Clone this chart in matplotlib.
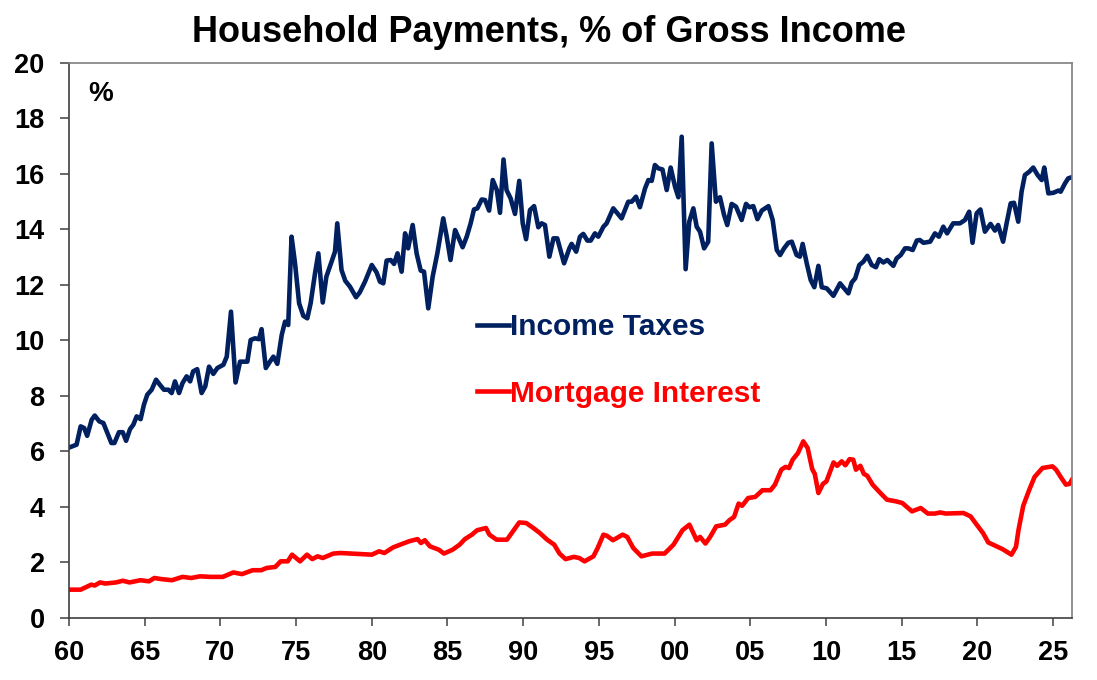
import matplotlib
matplotlib.use('Agg')
import matplotlib.pyplot as plt

plt.rcParams['font.family'] = ['Liberation Sans', 'DejaVu Sans']
plt.rcParams['font.weight'] = 'bold'

# income taxes, % of gross income
tax_year = [1960.07, 1960.5, 1960.77, 1961.0, 1961.2, 1961.5, 1961.7, 1962.0, 1962.27, 1962.8,
            1963.0, 1963.3, 1963.55, 1963.77, 1964.03, 1964.25, 1964.47, 1964.73, 1964.95, 1965.17,
            1965.46, 1965.75, 1966.0, 1966.27, 1966.56, 1966.78, 1967.0, 1967.27, 1967.5, 1967.77,
            1968.0, 1968.2, 1968.47, 1968.76, 1969.0, 1969.25, 1969.53, 1969.8, 1970.2, 1970.42,
            1970.7, 1971.0, 1971.3, 1971.78, 1972.0, 1972.28, 1972.55, 1972.72, 1973.0, 1973.27,
            1973.5, 1973.76, 1974.05, 1974.27, 1974.48, 1974.7, 1974.93, 1975.2, 1975.48, 1975.74,
            1975.96, 1976.25, 1976.47, 1976.76, 1977.0, 1977.29, 1977.57, 1977.72, 1978.0, 1978.25,
            1978.56, 1978.96, 1979.2, 1979.55, 1980.0, 1980.32, 1980.54, 1980.76, 1980.98, 1981.25,
            1981.47, 1981.7, 1981.97, 1982.2, 1982.4, 1982.7, 1982.96, 1983.23, 1983.45, 1983.73,
            1984.02, 1984.33, 1984.5, 1984.72, 1984.95, 1985.2, 1985.5, 1985.7, 1986.0, 1986.27,
            1986.53, 1986.75, 1986.97, 1987.26, 1987.48, 1987.75, 1987.99, 1988.26, 1988.47, 1988.7,
            1988.9, 1989.17, 1989.46, 1989.74, 1989.97, 1990.19, 1990.45, 1990.72, 1991.0, 1991.22,
            1991.44, 1991.73, 1992.0, 1992.25, 1992.7, 1993.05, 1993.2, 1993.5, 1993.75, 1993.97,
            1994.24, 1994.46, 1994.74, 1994.96, 1995.3, 1995.51, 1995.95, 1996.5, 1996.94, 1997.17,
            1997.45, 1997.71, 1998.05, 1998.27, 1998.49, 1998.7, 1998.93, 1999.2, 1999.48, 1999.74,
            2000.03, 2000.25, 2000.47, 2000.73, 2000.97, 2001.24, 2001.46, 2001.68, 2001.95, 2002.22,
            2002.45, 2002.73, 2003.0, 2003.27, 2003.48, 2003.77, 2004.06, 2004.43, 2004.72, 2004.94,
            2005.2, 2005.47, 2005.76, 2006.2, 2006.48, 2006.75, 2006.97, 2007.23, 2007.51, 2007.74,
            2008.06, 2008.28, 2008.46, 2008.73, 2008.99, 2009.23, 2009.5, 2009.72, 2010.05, 2010.49,
            2010.93, 2011.2, 2011.48, 2011.7, 2011.93, 2012.2, 2012.47, 2012.73, 2013.02, 2013.3,
            2013.52, 2013.79, 2014.05, 2014.45, 2014.67, 2014.94, 2015.22, 2015.44, 2015.73, 2016.0,
            2016.2, 2016.44, 2016.88, 2017.2, 2017.46, 2017.75, 2018.0, 2018.4, 2018.85, 2019.18,
            2019.46, 2019.68, 2019.95, 2020.2, 2020.5, 2020.87, 2021.16, 2021.37, 2021.7, 2021.93,
            2022.2, 2022.42, 2022.7, 2022.92, 2023.14, 2023.43, 2023.69, 2023.98, 2024.25, 2024.42,
            2024.69, 2025.02, 2025.35, 2025.5, 2025.79, 2026.0, 2026.23]
tax_val = [6.15, 6.24, 6.9, 6.84, 6.56, 7.14, 7.29, 7.08, 7.02, 6.3,
           6.3, 6.69, 6.69, 6.38, 6.8, 6.96, 7.26, 7.16, 7.68, 8.04,
           8.22, 8.58, 8.4, 8.22, 8.22, 8.1, 8.52, 8.1, 8.46, 8.7,
           8.52, 8.88, 8.96, 8.1, 8.34, 9.05, 8.79, 9.0, 9.12, 9.41,
           11.03, 8.48, 9.23, 9.23, 10.01, 10.07, 10.04, 10.4, 9.0, 9.23,
           9.41, 9.15, 10.19, 10.67, 10.55, 13.73, 12.77, 11.33, 10.88, 10.79,
           11.33, 12.41, 13.13, 11.36, 12.29, 12.75, 13.19, 14.21, 12.53, 12.14,
           11.93, 11.55, 11.72, 12.11, 12.71, 12.44, 12.11, 12.05, 12.87, 12.89,
           12.75, 13.13, 12.47, 13.85, 13.31, 14.15, 13.13, 12.51, 12.47, 11.15,
           12.29, 13.13, 13.67, 14.39, 13.73, 12.89, 13.97, 13.73, 13.35, 13.73,
           14.21, 14.71, 14.75, 15.07, 15.05, 14.67, 15.77, 15.41, 14.59, 16.51,
           15.41, 15.11, 14.55, 15.74, 14.21, 13.64, 14.69, 14.83, 14.07, 14.21,
           14.15, 13.01, 13.67, 13.67, 12.77, 13.31, 13.47, 13.19, 13.73, 13.83,
           13.59, 13.59, 13.85, 13.73, 14.09, 14.21, 14.75, 14.39, 14.99, 14.99,
           15.17, 14.79, 15.47, 15.77, 15.74, 16.31, 16.19, 16.15, 15.41, 16.22,
           15.53, 15.15, 17.33, 12.56, 14.27, 14.75, 14.09, 13.91, 13.31, 13.55,
           17.09, 14.99, 15.15, 14.51, 14.15, 14.91, 14.81, 14.33, 14.91, 14.79,
           14.83, 14.36, 14.67, 14.83, 14.33, 13.25, 13.07, 13.31, 13.51, 13.55,
           13.07, 13.01, 13.47, 12.77, 12.17, 11.91, 12.68, 11.91, 11.87, 11.6,
           12.05, 11.87, 11.69, 12.08, 12.23, 12.71, 12.83, 13.04, 12.71, 12.63,
           12.92, 12.8, 12.89, 12.68, 12.95, 13.07, 13.31, 13.31, 13.25, 13.59,
           13.61, 13.51, 13.55, 13.85, 13.73, 14.09, 13.85, 14.21, 14.21, 14.33,
           14.63, 13.51, 14.57, 14.71, 13.91, 14.19, 13.95, 14.15, 13.55, 14.21,
           14.93, 14.95, 14.27, 15.35, 15.95, 16.07, 16.22, 15.95, 15.77, 16.22,
           15.29, 15.31, 15.39, 15.35, 15.65, 15.83, 15.87]

# mortgage interest, % of gross income
mort_year = [1960.08, 1960.77, 1961.47, 1961.7, 1962.05, 1962.4, 1963.1, 1963.55, 1964.0, 1964.72,
             1965.28, 1965.64, 1966.1, 1966.8, 1967.5, 1968.07, 1968.65, 1969.35, 1970.16, 1970.85,
             1971.43, 1972.13, 1972.7, 1973.05, 1973.63, 1973.98, 1974.45, 1974.73, 1975.26, 1975.72,
             1976.07, 1976.42, 1976.76, 1977.46, 1977.93, 1978.62, 1980.0, 1980.48, 1980.83, 1981.4,
             1981.98, 1982.45, 1983.02, 1983.25, 1983.5, 1983.84, 1984.42, 1984.77, 1985.34, 1985.8,
             1986.15, 1986.61, 1986.96, 1987.54, 1987.77, 1988.24, 1988.93, 1989.74, 1990.2, 1990.67,
             1991.1, 1991.58, 1992.05, 1992.4, 1992.8, 1993.34, 1993.7, 1994.05, 1994.64, 1994.92,
             1995.3, 1995.53, 1995.93, 1996.57, 1996.87, 1997.27, 1997.81, 1998.52, 1999.34, 1999.93,
             2000.52, 2000.98, 2001.46, 2001.68, 2002.04, 2002.35, 2002.75, 2003.33, 2003.62, 2003.93,
             2004.23, 2004.46, 2004.86, 2005.33, 2005.8, 2006.34, 2006.63, 2007.05, 2007.33, 2007.56,
             2007.8, 2008.15, 2008.5, 2008.79, 2009.09, 2009.26, 2009.5, 2009.8, 2010.03, 2010.5,
             2010.74, 2011.04, 2011.28, 2011.56, 2011.8, 2011.98, 2012.27, 2012.5, 2012.73, 2013.08,
             2013.56, 2014.03, 2014.62, 2015.04, 2015.68, 2016.26, 2016.73, 2017.2, 2017.55, 2017.9,
             2019.08, 2019.55, 2019.9, 2020.37, 2020.72, 2021.19, 2021.66, 2022.25, 2022.55, 2022.72,
             2023.03, 2023.43, 2023.78, 2024.3, 2024.96, 2025.2, 2025.55, 2025.85, 2026.09, 2026.25]
mort_val = [1.02, 1.02, 1.2, 1.17, 1.28, 1.24, 1.28, 1.34, 1.28, 1.36,
            1.32, 1.44, 1.4, 1.36, 1.48, 1.44, 1.5, 1.48, 1.48, 1.64,
            1.58, 1.72, 1.72, 1.8, 1.84, 2.04, 2.04, 2.28, 2.04, 2.28,
            2.12, 2.22, 2.16, 2.32, 2.34, 2.32, 2.28, 2.4, 2.34, 2.54,
            2.66, 2.76, 2.84, 2.7, 2.8, 2.58, 2.46, 2.32, 2.46, 2.64,
            2.84, 3.0, 3.16, 3.24, 3.0, 2.82, 2.82, 3.44, 3.42, 3.24,
            3.06, 2.82, 2.64, 2.32, 2.12, 2.2, 2.16, 2.04, 2.22, 2.52,
            3.0, 2.96, 2.8, 3.0, 2.92, 2.52, 2.22, 2.32, 2.32, 2.64,
            3.16, 3.36, 2.8, 2.92, 2.68, 2.92, 3.3, 3.36, 3.52, 3.64,
            4.12, 4.04, 4.32, 4.36, 4.6, 4.6, 4.8, 5.34, 5.44, 5.4,
            5.7, 5.94, 6.36, 6.12, 5.36, 5.19, 4.5, 4.83, 4.92, 5.6,
            5.48, 5.64, 5.5, 5.72, 5.7, 5.34, 5.48, 5.19, 5.12, 4.8,
            4.52, 4.26, 4.2, 4.14, 3.84, 3.96, 3.76, 3.76, 3.8, 3.76,
            3.78, 3.66, 3.4, 3.06, 2.72, 2.6, 2.48, 2.28, 2.56, 3.18,
            4.04, 4.62, 5.08, 5.4, 5.46, 5.34, 5.04, 4.8, 4.83, 4.98]

x_ticks = list(range(1960, 2030, 5))
x_labels = ['60', '65', '70', '75', '80', '85', '90', '95', '00', '05', '10', '15', '20', '25']

navy = '#002060'
red = '#ff0000'

fig = plt.figure(figsize=(10.97, 6.8), dpi=100)
ax = fig.add_axes([0.0629, 0.0912, 0.9143, 0.8168])

ax.plot(tax_year, tax_val, color=navy, lw=3.3, label='Income Taxes', solid_joinstyle='round')
ax.plot(mort_year, mort_val, color=red, lw=3.3, label='Mortgage Interest', solid_joinstyle='round')

ax.set_xlim(1960, 2026.25)
ax.set_ylim(0, 20)
ax.set_yticks(range(0, 21, 2))
ax.set_xticks(x_ticks)
ax.set_xticklabels(x_labels)

for s in ['left', 'bottom']:
    ax.spines[s].set_color('#404040')
    ax.spines[s].set_linewidth(1.2)
for s in ['top', 'right']:
    ax.spines[s].set_color('#7f7f7f')
    ax.spines[s].set_linewidth(1.2)

ax.tick_params(axis='y', direction='out', length=6.5, width=1.1, color='#404040',
               labelsize=19.5, pad=11)
ax.tick_params(axis='x', direction='out', length=6, width=1.1, color='#404040',
               labelsize=19.5, pad=10)

ax.text(0.019, 0.967, '%', transform=ax.transAxes, fontsize=20, fontweight='bold',
        ha='left', va='top')

fig.suptitle('Household Payments, % of Gross Income', fontsize=26, fontweight='bold',
             x=0.5, y=0.978, va='top')

ax.legend(loc='center left', bbox_to_anchor=(0.435, 0.47), bbox_transform=fig.transFigure,
          frameon=False, fontsize=21.5, handlelength=1.05, handletextpad=0.05,
          labelspacing=1.3, borderpad=0, borderaxespad=0, labelcolor='linecolor')

fig.savefig('out.png', dpi=100)
